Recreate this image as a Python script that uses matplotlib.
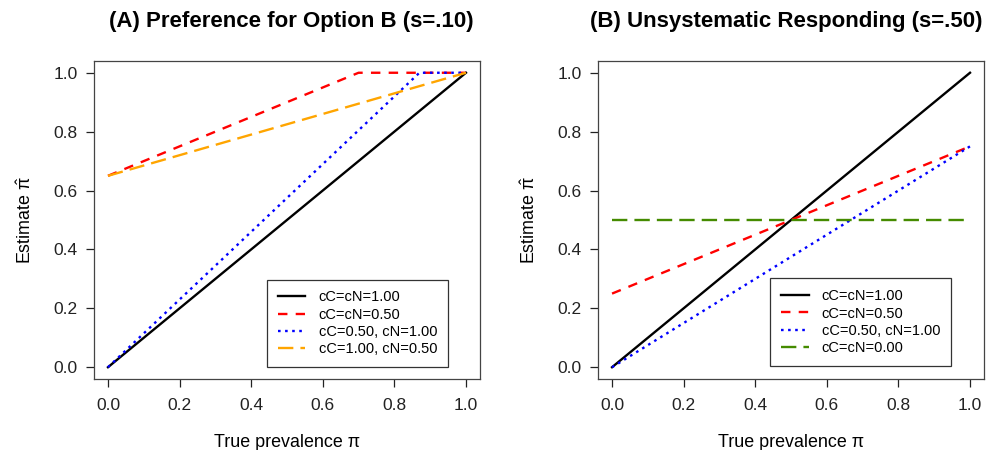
import matplotlib
matplotlib.use("Agg")
import matplotlib.pyplot as plt
import numpy as np

plt.rcParams['font.family'] = ['Liberation Sans', 'DejaVu Sans']
plt.rcParams['mathtext.fontset'] = 'custom'
plt.rcParams['mathtext.rm'] = 'Liberation Sans'
plt.rcParams['mathtext.it'] = 'Liberation Sans'

# Panel A data
a_black_x = [0.0, 1.0]
a_black_y = [0.0, 1.0]
a_red_x = [0.0, 0.70, 1.0]
a_red_y = [0.65, 1.0, 1.0]
a_blue_x = [0.0, 0.87, 1.0]
a_blue_y = [0.0, 1.0, 1.0]
a_orange_x = [0.0, 1.0]
a_orange_y = [0.65, 1.0]
a_labels = ["cC=cN=1.00", "cC=cN=0.50", "cC=0.50, cN=1.00", "cC=1.00, cN=0.50"]

# Panel B data
b_black_x = [0.0, 1.0]
b_black_y = [0.0, 1.0]
b_red_x = [0.0, 1.0]
b_red_y = [0.25, 0.75]
b_blue_x = [0.0, 1.0]
b_blue_y = [0.0, 0.75]
b_green_x = [0.0, 1.0]
b_green_y = [0.5, 0.5]
b_labels = ["cC=cN=1.00", "cC=cN=0.50", "cC=0.50, cN=1.00", "cC=cN=0.00"]

ticks = [0.0, 0.2, 0.4, 0.6, 0.8, 1.0]
tick_labels = ["0.0", "0.2", "0.4", "0.6", "0.8", "1.0"]

fig = plt.figure(figsize=(9.87, 4.5), dpi=100)
axA = fig.add_axes([0.0949, 0.1578, 0.3917, 0.7067])
axB = fig.add_axes([0.6056, 0.1578, 0.3917, 0.7067])

LW = 1.7
dashed = (0, (4, 3.5))
dotted = (0, (1.1, 1.9))
longdash = (0, (6.5, 3))

axA.plot(a_black_x, a_black_y, color='black', lw=LW, label=a_labels[0])
axA.plot(a_red_x, a_red_y, color='red', lw=LW, linestyle=dashed, label=a_labels[1])
axA.plot(a_blue_x, a_blue_y, color='blue', lw=LW, linestyle=dotted, label=a_labels[2])
axA.plot(a_orange_x, a_orange_y, color='orange', lw=LW, linestyle=longdash, label=a_labels[3])

axB.plot(b_black_x, b_black_y, color='black', lw=LW, label=b_labels[0])
axB.plot(b_red_x, b_red_y, color='red', lw=LW, linestyle=dashed, label=b_labels[1])
axB.plot(b_blue_x, b_blue_y, color='blue', lw=LW, linestyle=dotted, label=b_labels[2])
axB.plot(b_green_x, b_green_y, color='#458B00', lw=LW, linestyle=longdash, label=b_labels[3])

titles = ["(A) Preference for Option B (s=.10)", "(B) Unsystematic Responding (s=.50)"]
title_x = [291 / 987, 786 / 987]
anchors = [(0.9165, 0.0377), (0.914, 0.041)]
for ax, t, tx, anc in zip([axA, axB], titles, title_x, anchors):
    ax.set_xlim(-0.04, 1.04)
    ax.set_ylim(-0.04, 1.04)
    ax.set_xticks(ticks)
    ax.set_xticklabels(tick_labels)
    ax.set_yticks(ticks)
    ax.set_yticklabels(tick_labels)
    ax.tick_params(direction='out', length=5.5, width=0.9, labelsize=12.5, colors='#222222')
    ax.tick_params(axis='x', pad=8)
    ax.tick_params(axis='y', pad=6)
    for sp in ax.spines.values():
        sp.set_linewidth(0.9)
        sp.set_color('#444444')
    fig.text(tx, 1 - 27 / 450, t, fontsize=16.0, fontweight='bold',
             ha='center', va='baseline')
    ax.set_xlabel("True prevalence \u03c0", fontsize=12.9, labelpad=15)
    ax.set_ylabel(r"Estimate $\hat{\pi}$", fontsize=12.9, labelpad=13)
    leg = ax.legend(loc='lower right', bbox_to_anchor=anc, borderaxespad=0,
                    fancybox=False, edgecolor='#333333', fontsize=10.5,
                    handlelength=1.9, handletextpad=0.9, labelspacing=0.22,
                    borderpad=0.75, framealpha=1)
    leg.get_frame().set_linewidth(0.9)

fig.savefig("out.png", dpi=100)
